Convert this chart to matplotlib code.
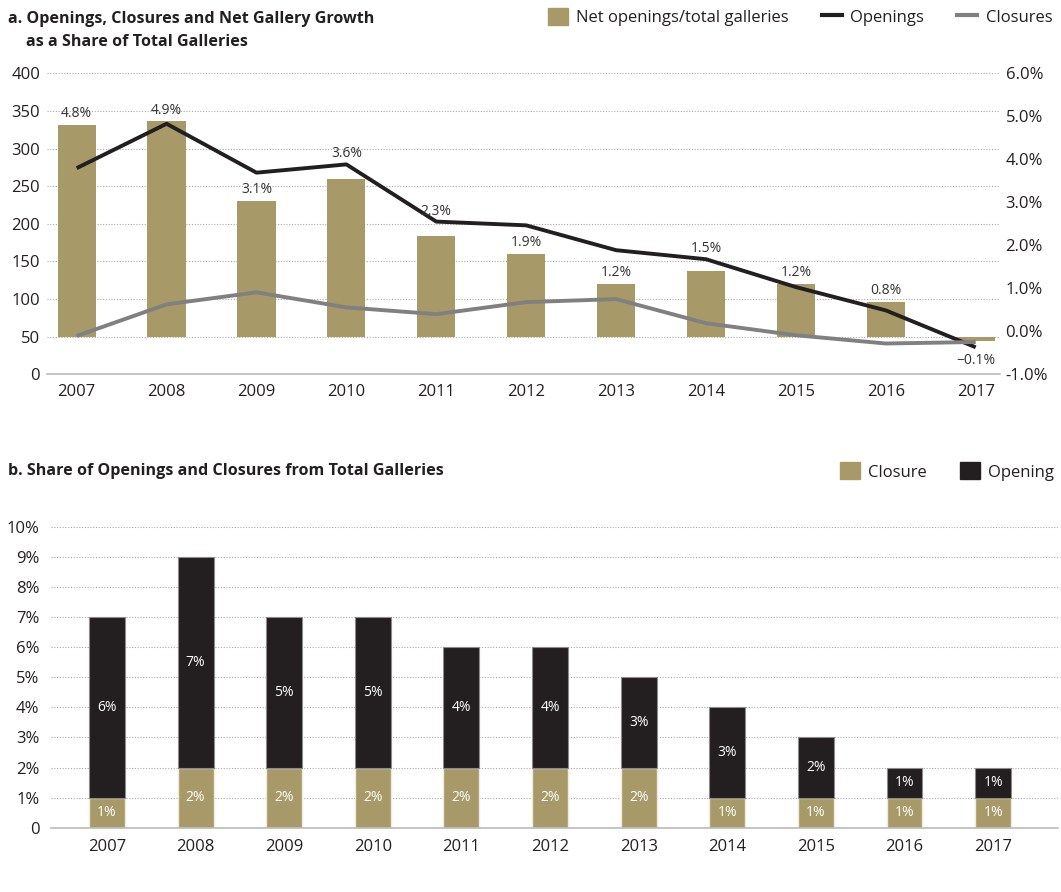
import numpy as np
import matplotlib
matplotlib.use("Agg")
import matplotlib.pyplot as plt
from matplotlib.patches import Patch
from matplotlib.lines import Line2D

plt.rcParams["font.family"] = ["Open Sans", "DejaVu Sans"]

years = ["2007", "2008", "2009", "2010", "2011", "2012", "2013", "2014", "2015", "2016", "2017"]

# panel a: lines on the left axis (count of galleries)
openings = [274, 333, 268, 279, 203, 198, 165, 153, 116, 85, 36]
closures = [51, 93, 109, 89, 80, 96, 100, 68, 52, 41, 43]
# bar tops on the left axis, bars stand on the 50 line
net_level = [331, 336, 230, 259, 184, 160, 120, 137, 120, 96, 45]
net_pct = [4.8, 4.9, 3.1, 3.6, 2.3, 1.9, 1.2, 1.5, 1.2, 0.8, -0.1]

# panel b: stacked shares (%)
closure_share = [1, 2, 2, 2, 2, 2, 2, 1, 1, 1, 1]
opening_share = [6, 7, 5, 5, 4, 4, 3, 3, 2, 1, 1]

TAN = "#a89968"
BLACK = "#231f20"
GREY = "#808080"
TXT = "#231f20"

fig = plt.figure(figsize=(10.61, 8.92), dpi=100)
x = np.arange(len(years))

# ---------------- panel a ----------------
ax = fig.add_axes([0.0443, 0.5803, 0.8982, 0.3375])
base = 50
ax.bar(x, np.array(net_level) - base, bottom=base, width=0.425, color=TAN, zorder=2)
ax.plot(x, openings, color=BLACK, lw=2.8, zorder=3, solid_capstyle="butt")
ax.plot(x, closures, color=GREY, lw=2.8, zorder=3, solid_capstyle="butt")

for i, p in enumerate(net_pct):
    top = net_level[i]
    if p < 0:
        ly = openings[i] - 17
    elif top < openings[i] < top + 25:
        ly = openings[i] + 14
    else:
        ly = top + 15
    ax.text(x[i], ly, f"{p:.1f}%".replace("-", "\u2212"), ha="center", va="center",
            fontsize=10, color="#333333", zorder=4)

ax.set_ylim(0, 400)
ax.set_xlim(-0.33, 10.27)
ax.set_yticks(range(0, 401, 50))
ax.set_xticks(x)
ax.set_xticklabels(years)
ax.yaxis.grid(True, linestyle=(0, (1, 1.5)), color="#aaaaaa", lw=0.8, zorder=0)
ax.set_axisbelow(True)
for s in ["top", "right", "left"]:
    ax.spines[s].set_visible(False)
ax.spines["bottom"].set_color("#bbbbbb")
ax.spines["bottom"].set_linewidth(1.2)
ax.tick_params(axis="both", length=0, labelsize=12, colors=TXT)
ax.tick_params(axis="x", pad=7)
ax.tick_params(axis="y", pad=5)

ax2 = ax.twinx()
ax2.set_ylim(-1, 6)
ax2.set_yticks(range(-1, 7))
ax2.set_yticklabels([f"{v:.1f}%" for v in range(-1, 7)])
for s in ax2.spines.values():
    s.set_visible(False)
ax2.tick_params(axis="y", length=0, labelsize=12, colors=TXT, pad=4)

fig.text(0.0075, 0.979, "a. Openings, Closures and Net Gallery Growth", fontsize=11.6,
         fontweight="bold", color=TXT, va="center")
fig.text(0.0245, 0.953, "as a Share of Total Galleries", fontsize=11.6,
         fontweight="bold", color=TXT, va="center")

h_a = [Patch(color=TAN), Line2D([], [], color=BLACK, lw=3), Line2D([], [], color=GREY, lw=3)]
fig.legend(h_a, ["Net openings/total galleries", "Openings", "Closures"],
           loc="center right", bbox_to_anchor=(1.006, 0.9805), ncol=3, frameon=False,
           fontsize=12, handlelength=1.2, handleheight=1.2, handletextpad=0.5,
           columnspacing=2.0, labelcolor=TXT)

# ---------------- panel b ----------------
bx = fig.add_axes([0.0478, 0.0722, 0.9492, 0.3367])
bx.bar(x, closure_share, width=0.405, color=TAN, edgecolor="#efeadb", lw=1, zorder=2)
bx.bar(x, opening_share, bottom=closure_share, width=0.405, color=BLACK,
       edgecolor="#8c8c8c", lw=0.8, zorder=2)
for i in range(len(years)):
    c = closure_share[i]
    o = opening_share[i]
    bx.text(x[i], c / 2, f"{c}%", ha="center", va="center", color="white", fontsize=10, zorder=3)
    bx.text(x[i], c + o / 2, f"{o}%", ha="center", va="center", color="white", fontsize=10, zorder=3)

bx.set_ylim(0, 10)
bx.set_xlim(-0.635, 10.73)
bx.set_yticks(range(0, 11))
bx.set_yticklabels(["0"] + [f"{v}%" for v in range(1, 11)])
bx.set_xticks(x)
bx.set_xticklabels(years)
bx.yaxis.grid(True, linestyle=(0, (1, 1.5)), color="#aaaaaa", lw=0.8, zorder=0)
bx.set_axisbelow(True)
for s in ["top", "right", "left"]:
    bx.spines[s].set_visible(False)
bx.spines["bottom"].set_color("#bbbbbb")
bx.spines["bottom"].set_linewidth(1.2)
bx.tick_params(axis="both", length=0, labelsize=12, colors=TXT)
bx.tick_params(axis="x", pad=8)
bx.tick_params(axis="y", pad=8)

fig.text(0.0075, 0.472, "b. Share of Openings and Closures from Total Galleries", fontsize=11.6,
         fontweight="bold", color=TXT, va="center")
h_b = [Patch(color=TAN), Patch(color=BLACK)]
fig.legend(h_b, ["Closure", "Opening"], loc="center right", bbox_to_anchor=(1.008, 0.4715),
           ncol=2, frameon=False, fontsize=12, handlelength=1.2, handleheight=1.2,
           handletextpad=0.5, columnspacing=2.0, labelcolor=TXT)

fig.savefig("out.png", dpi=100)
